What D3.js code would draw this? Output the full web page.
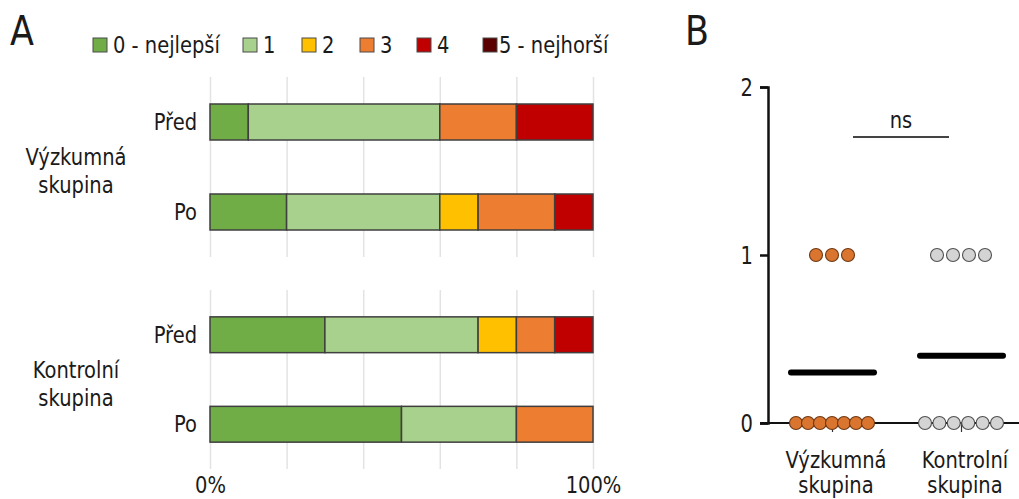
<!DOCTYPE html>
<html>
<head>
<meta charset="utf-8">
<script src="https://cdn.jsdelivr.net/npm/d3@7"></script>
<style>
  html, body { margin: 0; padding: 0; background: #fff; }
  svg { display: block; }
  text { font-family: "DejaVu Sans", Verdana, sans-serif; fill: #1a1a1a; }
</style>
</head>
<body>
<svg id="chart" width="1019" height="499"></svg>
<script>
// ---- data ----
const scoreCategories = ["0 - nejlepší", "1", "2", "3", "4", "5 - nejhorší"];
const scoreColors = ["#70AD47", "#A9D18E", "#FFC000", "#ED7D31", "#C00000", "#5A0000"];
const groupNames = ["Výzkumná skupina", "Kontrolní skupina"];
const timePoints = ["Před", "Po"];
// number of participants per score (0..5)
const vyzkumnaPred = [1, 5, 0, 2, 2, 0];
const vyzkumnaPo = [2, 4, 1, 2, 1, 0];
const kontrolniPred = [3, 4, 1, 1, 1, 0];
const kontrolniPo = [5, 3, 0, 2, 0, 0];
const percentTicks = [0, 1];

// panel B: individual values per participant
const vyzkumnaValues = [1, 1, 1, 0, 0, 0, 0, 0, 0, 0];
const kontrolniValues = [1, 1, 1, 1, 0, 0, 0, 0, 0, 0];
const yTicksB = [0, 1, 2];
const significanceLabel = "ns";

// ---- setup ----
const svg = d3.select("#chart");
const SY = 1.15; // vertical stretch of the lettering
const fontSize = 19.5;

function label(g, x, y, str, anchor, size) {
  return g.append("text")
    .attr("transform", `translate(${x},${y}) scale(1,${SY})`)
    .attr("text-anchor", anchor || "start")
    .style("font-size", (size || fontSize) + "px")
    .text(str);
}

// panel letters
label(svg, 10, 45, "A", "start", 35);
label(svg, 685, 45, "B", "start", 35);

// ---- panel A ----
const xA = d3.scaleLinear().domain([0, 1]).range([210, 593]);

const facets = [
  { name: groupNames[0], rows: [vyzkumnaPred, vyzkumnaPo], top: 77, bottom: 257 },
  { name: groupNames[1], rows: [kontrolniPred, kontrolniPo], top: 290, bottom: 469 }
];

const stack = d3.stack()
  .keys(d3.range(scoreCategories.length))
  .value((d, k) => d.counts[k] / d3.sum(d.counts));

facets.forEach(f => {
  const g = svg.append("g");
  const yBand = d3.scaleBand().domain(timePoints).range([f.top, f.bottom])
    .paddingInner(0.6).paddingOuter(0.3);

  // vertical grid
  g.append("g")
    .attr("transform", `translate(0,${f.top})`)
    .call(d3.axisTop(xA).tickValues(d3.range(0, 1.0001, 0.2)).tickSize(-(f.bottom - f.top)).tickFormat(""))
    .call(a => a.select(".domain").remove())
    .call(a => a.selectAll("line").attr("stroke", "#e3e3e3").attr("stroke-width", 1.5));

  const rowData = timePoints.map((t, i) => ({ time: t, counts: f.rows[i] }));
  const series = stack(rowData);

  g.selectAll("g.series")
    .data(series)
    .join("g")
    .attr("class", "series")
    .attr("fill", d => scoreColors[d.key])
    .selectAll("rect")
    .data(d => d.filter(p => p[1] - p[0] > 0))
    .join("rect")
    .attr("x", d => xA(d[0]))
    .attr("width", d => xA(d[1]) - xA(d[0]))
    .attr("y", d => yBand(d.data.time))
    .attr("height", yBand.bandwidth())
    .attr("stroke", "#3f3f3f")
    .attr("stroke-width", 1.5);

  // row labels
  const yAxis = g.append("g")
    .attr("transform", `translate(${xA(0)},0)`)
    .call(d3.axisLeft(yBand).tickSize(0).tickPadding(13));
  yAxis.select(".domain").remove();
  yAxis.selectAll("text")
    .style("font-size", fontSize + "px")
    .style("font-family", null)
    .attr("fill", "#1a1a1a")
    .attr("dy", "0.36em")
    .attr("transform", `scale(1,${SY})`);

  // group label (two lines)
  const mid = (yBand(timePoints[0]) + yBand(timePoints[1]) + yBand.bandwidth()) / 2;
  const words = f.name.split(" ");
  label(g, 76, mid - 2, words[0], "middle");
  label(g, 76, mid + 26, words[1], "middle");
});

// percent labels
const xAxisA = svg.append("g")
  .attr("transform", "translate(0,493)")
  .call(d3.axisBottom(xA).tickValues(percentTicks).tickFormat(d3.format(".0%")).tickSize(0));
xAxisA.select(".domain").remove();
xAxisA.selectAll("text")
  .attr("y", 0).attr("dy", 0)
  .style("font-size", fontSize + "px")
  .style("font-family", null)
  .attr("fill", "#1a1a1a")
  .attr("transform", `scale(1,${SY})`);

// legend
const legendX = [93, 243, 302, 360, 417, 483];
const legend = svg.append("g").attr("transform", "translate(0,38)");
scoreCategories.forEach((c, i) => {
  const item = legend.append("g").attr("transform", `translate(${legendX[i]},0)`);
  item.append("rect")
    .attr("width", 14).attr("height", 14)
    .attr("fill", scoreColors[i])
    .attr("stroke", "#4a4a4a").attr("stroke-width", 1);
  label(item, i === 5 ? 16 : 20, 14.5, c, "start");
});

// ---- panel B ----
const yB = d3.scaleLinear().domain([0, 2]).range([423, 87]);
const xB = d3.scalePoint().domain(groupNames).range([832, 961]);
const axisX = 768;

const gB = svg.append("g");

// x baseline
gB.append("line")
  .attr("x1", 760).attr("x2", 1019)
  .attr("y1", yB(0)).attr("y2", yB(0))
  .attr("stroke", "#111").attr("stroke-width", 2);

// category ticks and labels
const xAxisB = gB.append("g")
  .attr("transform", `translate(0,${yB(0)})`)
  .call(d3.axisBottom(xB).tickSize(9).tickSizeOuter(0).tickFormat(""));
xAxisB.select(".domain").remove();
xAxisB.selectAll("line").attr("stroke", "#333").attr("stroke-width", 1.2);
groupNames.forEach(name => {
  const words = name.split(" ");
  label(gB, xB(name) + 4, 468, words[0], "middle");
  label(gB, xB(name) + 4, 493, words[1], "middle");
});

// y axis
const yAxisB = gB.append("g")
  .attr("transform", `translate(${axisX},0)`)
  .call(d3.axisLeft(yB).tickValues(yTicksB).tickFormat(d3.format("d")).tickSize(8).tickPadding(7));
yAxisB.select(".domain").attr("stroke", "#111").attr("stroke-width", 2.5);
yAxisB.selectAll(".tick line").attr("stroke", "#111").attr("stroke-width", 2.5);
yAxisB.selectAll("text")
  .style("font-size", fontSize + "px")
  .style("font-family", null)
  .attr("fill", "#1a1a1a")
  .attr("dy", "0.36em")
  .attr("transform", `scale(1,${SY + 0.1})`);

// dots, spread horizontally per value
const groupsB = [
  { name: groupNames[0], values: vyzkumnaValues, fill: "#DA7530", stroke: "#6e3812" },
  { name: groupNames[1], values: kontrolniValues, fill: "#D4D4D4", stroke: "#505050" }
];

groupsB.forEach(gr => {
  const byValue = d3.groups(gr.values, v => v);
  const pts = [];
  byValue.forEach(([v, arr]) => {
    const n = arr.length;
    const step = n > 1 ? Math.min(16, 72 / (n - 1)) : 0;
    arr.forEach((_, i) => pts.push({ v, off: (i - (n - 1) / 2) * step }));
  });
  gB.append("g")
    .selectAll("circle")
    .data(pts)
    .join("circle")
    .attr("cx", d => xB(gr.name) + d.off)
    .attr("cy", d => yB(d.v))
    .attr("r", 6.5)
    .attr("fill", gr.fill)
    .attr("stroke", gr.stroke)
    .attr("stroke-width", 1.1);

  // mean line
  const m = d3.mean(gr.values);
  gB.append("line")
    .attr("x1", xB(gr.name) - 41).attr("x2", xB(gr.name) + 42)
    .attr("y1", yB(m)).attr("y2", yB(m))
    .attr("stroke", "#000").attr("stroke-width", 6)
    .attr("stroke-linecap", "round");
});

// significance bar
const sigY = 137;
gB.append("line")
  .attr("x1", 853).attr("x2", 949)
  .attr("y1", sigY).attr("y2", sigY)
  .attr("stroke", "#444").attr("stroke-width", 2);
label(gB, 901, 128, significanceLabel, "middle");
</script>
</body>
</html>
